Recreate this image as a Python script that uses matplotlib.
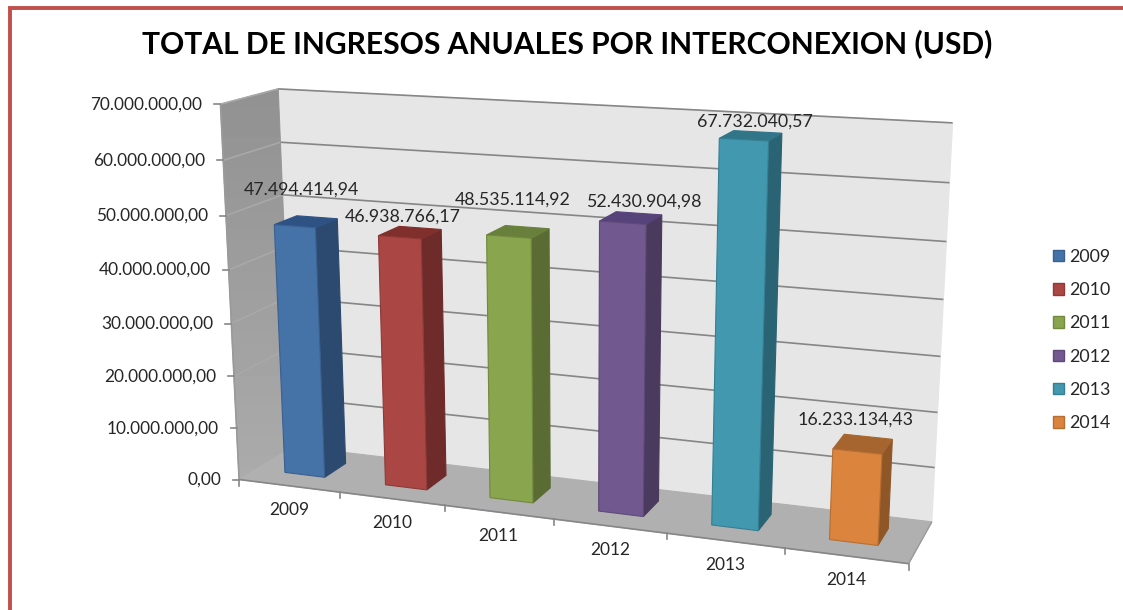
import numpy as np
import matplotlib
matplotlib.use("Agg")
import matplotlib.pyplot as plt
from matplotlib.patches import Polygon, Patch

plt.rcParams['font.family'] = ['Lato', 'DejaVu Sans']

years = ["2009", "2010", "2011", "2012", "2013", "2014"]
values = [47494414.94, 46938766.17, 48535114.92, 52430904.98, 67732040.57, 16233134.43]
value_labels = ["47.494.414,94", "46.938.766,17", "48.535.114,92",
                "52.430.904,98", "67.732.040,57", "16.233.134,43"]
y_ticks = [0, 10, 20, 30, 40, 50, 60, 70]
y_tick_labels = ["0,00", "10.000.000,00", "20.000.000,00", "30.000.000,00",
                 "40.000.000,00", "50.000.000,00", "60.000.000,00", "70.000.000,00"]
title = "TOTAL DE INGRESOS ANUALES POR INTERCONEXION (USD)"

front_colors = ["#4573A7", "#AA4643", "#89A54E", "#71588F", "#4198AF", "#DB843D"]
side_colors = ["#2C4A70", "#6E2B2A", "#5A6C33", "#4A3A5E", "#2A6373", "#8F5728"]
top_colors = ["#2F5285", "#812F2C", "#68803C", "#56437A", "#317589", "#A6652E"]
edge_colors = ["#3A6090", "#8E3A38", "#72893F", "#5E4978", "#367F92", "#B76E33"]

# camera of the 3d chart: (category, value in millions, depth) -> picture pixel
anchors = [
    (0, 0, 0, 240, 479), (0, 70, 0, 219, 104), (0, 0, 1, 292, 446),
    (0, 70, 1, 278, 90), (6, 0, 1, 932, 520.7), (6, 70, 1, 952.5, 123),
    (6, 0, 0, 908, 562), (1, 0, 0, 340, 495), (2, 0, 0, 444, 507),
    (5, 0, 0, 785, 550), (0, 50, 0, 227, 215), (0, 20, 0, 235, 373),
    (0, 50, 1, 283, 195), (6, 50, 1, 947, 242), (6, 20, 1, 938, 412),
]

def fit_camera(points):
    rows, rhs = [], []
    for X, Y, Z, u, v in points:
        rows.append([X, Y, Z, 1, 0, 0, 0, 0, -u * X, -u * Y, -u * Z])
        rows.append([0, 0, 0, 0, X, Y, Z, 1, -v * X, -v * Y, -v * Z])
        rhs += [u, v]
    sol = np.linalg.lstsq(np.array(rows, float), np.array(rhs, float), rcond=None)[0]
    return np.append(sol, 1).reshape(3, 4)

cam = fit_camera(anchors)

def proj(x, y, z):
    p = cam @ np.array([x, y, z, 1.0])
    return p[0] / p[2], p[1] / p[2]

fig = plt.figure(figsize=(11.23, 6.1), dpi=100)
ax = fig.add_axes([0, 0, 1, 1])

def face(pts, color, edge=None, lw=0.8, z=2):
    poly = Polygon([proj(*p) for p in pts], closed=True, facecolor=color,
                   edgecolor=edge if edge else color, linewidth=lw, zorder=z)
    ax.add_patch(poly)
    return poly

def line3(a, b, color="#868686", lw=1.2, z=2):
    pa, pb = proj(*a), proj(*b)
    ax.plot([pa[0], pb[0]], [pa[1], pb[1]], color=color, lw=lw, zorder=z,
            solid_capstyle="butt")

# red frame
ax.plot([9.5, 9.5, 1123], [610, 7.5, 7.5], color="#C0504D", lw=2.8, zorder=1,
        solid_joinstyle="miter")

# walls and floor
nx = len(years)
top = y_ticks[-1]
face([(0, 0, 1), (nx, 0, 1), (nx, top, 1), (0, top, 1)], "#E6E6E6", z=1.5)
wall = face([(0, 0, 0), (0, 0, 1), (0, top, 1), (0, top, 0)], "#9C9C9C", z=1.6)
shade = ax.imshow(np.linspace(0.57, 0.67, 64).reshape(-1, 1), cmap="gray", vmin=0, vmax=1,
                  extent=(215, 295, 480, 88), aspect="auto", zorder=1.65)
shade.set_clip_path(wall)
face([(0, 0, 0), (nx, 0, 0), (nx, 0, 1), (0, 0, 1)], "#B0B0B0", z=1.7)

ax.set_xlim(0, 1123)
ax.set_ylim(610, 0)
ax.axis("off")

# gridlines
for t in y_ticks[1:]:
    line3((0, t, 1), (nx, t, 1))
    line3((0, t, 0), (0, t, 1), color="#A8A8A8")
line3((0, 0, 0), (nx, 0, 0))
line3((0, 0, 0), (0, top, 0), color="#9A9A9A")
line3((nx, 0, 0), (nx, 0, 1), color="#9A9A9A", lw=1.0)

# ticks + labels
for t, lab in zip(y_ticks, y_tick_labels):
    px, py = proj(0, t, 0)
    ax.plot([px - 6, px], [py, py], color="#868686", lw=1.2, zorder=2)
    ax.text(px - 18, py, lab, ha="right", va="center", fontsize=12.4, color="#262626")
for i in range(nx + 1):
    px, py = proj(i, 0, 0)
    ax.plot([px, px], [py, py + 6], color="#868686", lw=1.2, zorder=2)
for i, yr in enumerate(years):
    px, py = proj(i + 0.5, 0, 0)
    ax.text(px, py + 24, yr, ha="center", va="center", fontsize=12.5, color="#262626")

# bars
bar_w = 0.40
d0, d1 = 0.31, 0.72
label_dx = [-6, -8, -6, 12, 3, -9]
label_dy = [-32, -16, -32, -16, -14, -25]
for i, val in enumerate(values):
    h = val / 1e6
    x0 = i + 0.49 - bar_w / 2
    x1 = x0 + bar_w
    z = 3 + i * 0.1
    face([(x1, 0, d0), (x1, 0, d1), (x1, h, d1), (x1, h, d0)], side_colors[i], z=z)
    face([(x0, h, d0), (x1, h, d0), (x1, h, d1), (x0, h, d1)], top_colors[i], z=z)
    face([(x0, 0, d0), (x1, 0, d0), (x1, h, d0), (x0, h, d0)], front_colors[i],
         edge=edge_colors[i], z=z + 0.01)
    px, py = proj(i + 0.5, h, (d0 + d1) / 2)
    ax.text(px + label_dx[i], py + label_dy[i], value_labels[i], ha="center", va="center",
            fontsize=12.8, color="#262626", zorder=6)

ax.text(567.5, 43.5, title, ha="center", va="center", fontsize=21.6, fontweight="bold",
        color="black")

handles = [Patch(facecolor=c, edgecolor=e, label=y, linewidth=1.0)
           for c, e, y in zip(front_colors, edge_colors, years)]
ax.legend(handles=handles, loc="center left", bbox_to_anchor=(1037, 340),
          bbox_transform=ax.transData, frameon=False, fontsize=12.8,
          labelspacing=0.97, handlelength=0.62, handleheight=0.62, handletextpad=0.28,
          labelcolor="#262626")

fig.savefig("out.png", dpi=100)
